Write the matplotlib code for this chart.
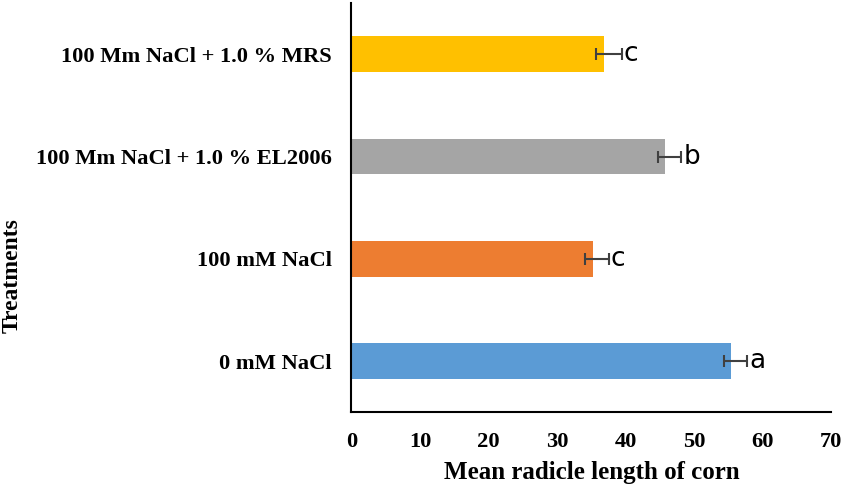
import numpy as np
import matplotlib
matplotlib.use('Agg')
import matplotlib.pyplot as plt

# data, bottom to top as drawn
treatments = ['0 mM NaCl', '100 mM NaCl', '100 Mm NaCl + 1.0 % EL2006', '100 Mm NaCl + 1.0 % MRS']
means = [55.4, 35.2, 45.8, 36.8]
err_low = [1.1, 1.1, 1.1, 1.1]
err_high = [2.3, 2.3, 2.3, 2.6]
letters = ['a', 'c', 'b', 'c']
colors = ['#5B9BD5', '#ED7D31', '#A5A5A5', '#FFC000']

serif = 'Liberation Serif'

fig = plt.figure(figsize=(8.51, 4.91), dpi=100)
ax = fig.add_axes([0.413, 0.160, 0.564, 0.834])

y = np.arange(len(treatments))
ax.barh(y, means, height=0.35, color=colors, zorder=2)
ax.errorbar(means, y, xerr=[err_low, err_high], fmt='none', ecolor='#404040',
            elinewidth=1.5, capsize=4, capthick=1.5, zorder=3)

# significance letters just right of the error caps
for yi, m, eh, lt in zip(y, means, err_high, letters):
    ax.text(m + eh + 0.3, yi, lt, ha='left', va='center', fontsize=19,
            family='DejaVu Sans', color='black')

ax.set_xlim(0, 70)
ax.set_ylim(-0.5, 3.5)
ax.set_xticks(np.arange(0, 71, 10))
ax.set_yticks(y)
ax.set_yticklabels(treatments)
ax.tick_params(length=0)
for lab in ax.get_xticklabels() + ax.get_yticklabels():
    lab.set_family(serif)
    lab.set_fontweight('bold')
    lab.set_fontsize(16.2)
ax.tick_params(axis='x', pad=14)
ax.tick_params(axis='y', pad=14)

for s in ['top', 'right']:
    ax.spines[s].set_visible(False)
for s in ['left', 'bottom']:
    ax.spines[s].set_linewidth(1.5)
    ax.spines[s].set_color('black')

fig.text(591.6 / 851, 1 - 473 / 491, 'Mean radicle length of corn', ha='center', va='center',
         family=serif, fontweight='bold', fontsize=18)
fig.text(12 / 851, 1 - 276 / 491, 'Treatments', ha='center', va='center', rotation=90,
         family=serif, fontweight='bold', fontsize=17)

fig.savefig('out.png', dpi=100)
